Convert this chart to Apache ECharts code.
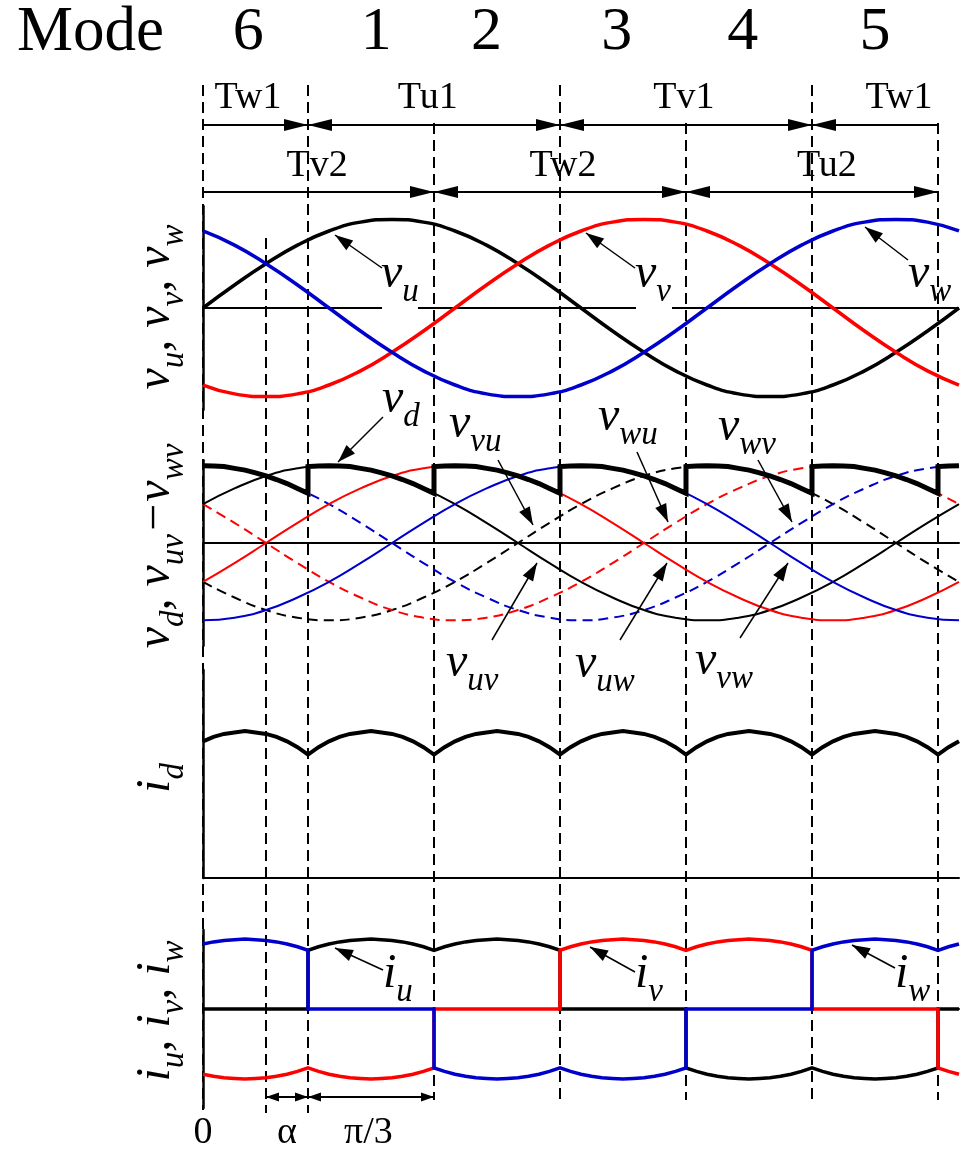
<!DOCTYPE html>
<html>
<head>
<meta charset="utf-8">
<title>Mode waveforms</title>
<script src="https://cdn.jsdelivr.net/npm/echarts@6.0.0/dist/echarts.min.js"></script>
<style>
  html, body { margin: 0; padding: 0; background: #fff; }
  #main { width: 960px; height: 1153px; }
</style>
</head>
<body>
<div id="main"></div>
<script>
// electrical angle in degrees, 0 .. 2pi across the plot
const theta = [0, 15, 30, 45, 60, 75, 90, 105, 120, 135, 150, 165, 180,
               195, 210, 225, 240, 255, 270, 285, 300, 315, 330, 345, 360];

// phase voltages (per unit of phase peak)
const vu = [0, 0.26, 0.5, 0.71, 0.87, 0.97, 1, 0.97, 0.87, 0.71, 0.5, 0.26, 0,
            -0.26, -0.5, -0.71, -0.87, -0.97, -1, -0.97, -0.87, -0.71, -0.5, -0.26, 0];
const vv = [-0.87, -0.97, -1, -0.97, -0.87, -0.71, -0.5, -0.26, 0, 0.26, 0.5, 0.71, 0.87,
            0.97, 1, 0.97, 0.87, 0.71, 0.5, 0.26, 0, -0.26, -0.5, -0.71, -0.87];
const vw = [0.87, 0.71, 0.5, 0.26, 0, -0.26, -0.5, -0.71, -0.87, -0.97, -1, -0.97, -0.87,
            -0.71, -0.5, -0.26, 0, 0.26, 0.5, 0.71, 0.87, 0.97, 1, 0.97, 0.87];

// line-to-line voltages
const vuv = [0.87, 1.22, 1.5, 1.67, 1.73, 1.67, 1.5, 1.22, 0.87, 0.45, 0, -0.45, -0.87,
             -1.22, -1.5, -1.67, -1.73, -1.67, -1.5, -1.22, -0.87, -0.45, 0, 0.45, 0.87];
const vvu = [-0.87, -1.22, -1.5, -1.67, -1.73, -1.67, -1.5, -1.22, -0.87, -0.45, 0, 0.45, 0.87,
             1.22, 1.5, 1.67, 1.73, 1.67, 1.5, 1.22, 0.87, 0.45, 0, -0.45, -0.87];
const vuw = [-0.87, -0.45, 0, 0.45, 0.87, 1.22, 1.5, 1.67, 1.73, 1.67, 1.5, 1.22, 0.87,
             0.45, 0, -0.45, -0.87, -1.22, -1.5, -1.67, -1.73, -1.67, -1.5, -1.22, -0.87];
const vwu = [0.87, 0.45, 0, -0.45, -0.87, -1.22, -1.5, -1.67, -1.73, -1.67, -1.5, -1.22, -0.87,
             -0.45, 0, 0.45, 0.87, 1.22, 1.5, 1.67, 1.73, 1.67, 1.5, 1.22, 0.87];
const vvw = [-1.73, -1.67, -1.5, -1.22, -0.87, -0.45, 0, 0.45, 0.87, 1.22, 1.5, 1.67, 1.73,
             1.67, 1.5, 1.22, 0.87, 0.45, 0, -0.45, -0.87, -1.22, -1.5, -1.67, -1.73];
const vwv = [1.73, 1.67, 1.5, 1.22, 0.87, 0.45, 0, -0.45, -0.87, -1.22, -1.5, -1.67, -1.73,
             -1.67, -1.5, -1.22, -0.87, -0.45, 0, 0.45, 0.87, 1.22, 1.5, 1.67, 1.73];

// conduction intervals (start angle, every pi/3), shapes read every 5 deg inside one interval
const intervalStart = [-10, 50, 110, 170, 230, 290, 350];
const vdArc = [1.71, 1.72, 1.73, 1.72, 1.71, 1.67, 1.63, 1.57, 1.5, 1.42, 1.33, 1.22, 1.11];
const idArc = [0.84, 0.89, 0.93, 0.96, 0.98, 0.99, 1.0, 0.99, 0.98, 0.96, 0.93, 0.89, 0.84];
// which way each phase current flows in each interval (+1 / 0 / -1)
const iuSign = [0, 1, 1, 0, -1, -1, 0];
const ivSign = [-1, -1, 0, 1, 1, 0, -1];
const iwSign = [1, 0, -1, -1, 0, 1, 1];

// annotation texts
const modeNames = ['6', '1', '2', '3', '4', '5'];
const modeAt = [21.5, 82.5, 135, 197, 257, 320];
const row1Names = ['Tw1', 'Tu1', 'Tv1', 'Tw1'];
const row1At = [21.4, 107, 229, 331.4];
const row2Names = ['Tv2', 'Tw2', 'Tu2'];
const row2At = [54.3, 171.4, 297.1];

const SERIF = '"Liberation Serif", "Times New Roman", serif';
const BLACK = '#000000', RED = '#ff0000', BLUE = '#0000cc';

const pairs = arr => theta.map((t, i) => [t, arr[i]]);

function piecewise (arc, signs) {
    const pts = [];
    intervalStart.forEach((s, k) => {
        arc.forEach((v, j) => {
            const t = s + 5 * j;
            if (t >= 0 && t <= 360) pts.push([t, signs ? v * signs[k] : v]);
        });
    });
    return pts;
}

const chart = echarts.init(document.getElementById('main'));

const grids = [
    { left: 203, width: 756, top: 206.2, height: 203.6 },
    { left: 203, width: 756, top: 460.3, height: 185.5 },
    { left: 203, width: 756, top: 670, height: 208 },
    { left: 203, width: 756, top: 930, height: 178 }
];
const yRange = [[-1.15, 1.15], [-2.3, 1.85], [0, 1.415], [-1.413, 1.13]];

function line (name, data, axis, color, width, dashed, smooth, z) {
    return {
        name: name,
        type: 'line',
        xAxisIndex: axis,
        yAxisIndex: axis,
        data: data,
        showSymbol: false,
        symbol: 'none',
        smooth: smooth,
        silent: true,
        z: z || 2,
        lineStyle: { color: color, width: width, type: dashed ? [10, 6] : 'solid', cap: 'butt', join: 'miter' }
    };
}

const option = {
    animation: false,
    backgroundColor: '#fff',
    grid: grids,
    xAxis: grids.map((g, i) => ({
        gridIndex: i,
        type: 'value',
        min: 0,
        max: 360,
        axisLabel: { show: false },
        axisTick: { show: false },
        splitLine: { show: false },
        axisLine: { show: i > 0, onZero: true, lineStyle: { color: BLACK, width: 2 } }
    })),
    yAxis: grids.map((g, i) => ({
        gridIndex: i,
        type: 'value',
        min: yRange[i][0],
        max: yRange[i][1],
        axisLabel: { show: false },
        axisTick: { show: false },
        splitLine: { show: false },
        axisLine: { show: true, onZero: false, lineStyle: { color: BLACK, width: 2.5 } }
    })),
    series: [
        line('vu', pairs(vu), 0, BLACK, 3.5, false, true),
        line('vv', pairs(vv), 0, RED, 3.5, false, true),
        line('vw', pairs(vw), 0, BLUE, 3.5, false, true),

        line('vvu', pairs(vvu), 1, BLACK, 2, true, true),
        line('vwu', pairs(vwu), 1, RED, 2, true, true),
        line('vwv', pairs(vwv), 1, BLUE, 2, true, true),
        line('vuv', pairs(vuv), 1, BLACK, 2, false, true),
        line('vuw', pairs(vuw), 1, RED, 2, false, true),
        line('vvw', pairs(vvw), 1, BLUE, 2, false, true),
        line('vd', piecewise(vdArc), 1, BLACK, 5, false, false, 4),

        line('id', piecewise(idArc), 2, BLACK, 4, false, false),

        line('iu', piecewise(idArc, iuSign), 3, BLACK, 3.5, false, false, 2),
        line('iv', piecewise(idArc, ivSign), 3, RED, 3.5, false, false, 3),
        line('iw', piecewise(idArc, iwSign), 3, BLUE, 3.5, false, false, 4)
    ]
};

chart.setOption(option);

// ---------- annotations ----------
const px = t => chart.convertToPixel({ xAxisIndex: 0 }, t);
const py = (i, v) => chart.convertToPixel({ yAxisIndex: i }, v);

function seg (x1, y1, x2, y2, w, dash, z) {
    return { type: 'line', z: z || 5, silent: true, shape: { x1, y1, x2, y2 },
        style: { stroke: BLACK, lineWidth: w, lineDash: dash || null } };
}
function head (tx, ty, fx, fy, len, hw) {
    const dx = tx - fx, dy = ty - fy, d = Math.hypot(dx, dy);
    const ux = dx / d, uy = dy / d;
    const bx = tx - ux * len, by = ty - uy * len;
    return { type: 'polygon', z: 6, silent: true,
        shape: { points: [[tx, ty], [bx - uy * hw, by + ux * hw], [bx + uy * hw, by - ux * hw]] },
        style: { fill: BLACK } };
}
function span (t1, t2, y, h1, h2, len, hw, w, out) {
    const x1 = px(t1), x2 = px(t2);
    out.push(seg(x1, y, x2, y, w));
    if (h1) out.push(head(x1, y, x2, y, len, hw));
    if (h2) out.push(head(x2, y, x1, y, len, hw));
}
function txt (str, x, y, size, align, italic) {
    return { type: 'text', z: 20, silent: true, x: x, y: y,
        style: { text: str, fill: BLACK, fontSize: size, fontFamily: SERIF,
            fontStyle: italic ? 'italic' : 'normal', align: align || 'center', verticalAlign: 'middle' } };
}
const rich = {
    m: { fontSize: 48, fontFamily: SERIF, fontStyle: 'italic', fill: BLACK, verticalAlign: 'bottom', padding: [0, 0, 11, 0] },
    s: { fontSize: 33, fontFamily: SERIF, fontStyle: 'italic', fill: BLACK, verticalAlign: 'bottom' }
};
function symbol (parts, x, y, align, rotation) {
    return { type: 'text', z: 20, silent: true, x: x, y: y, rotation: rotation || 0,
        style: { text: parts.map(p => '{' + p[0] + '|' + p[1] + '}').join(''), rich: rich,
            align: align || 'left', verticalAlign: 'bottom' } };
}

const g = [];

// vertical dashed guides: angle, top, bottom (px)
const guides = [[0, 85, 1110], [30, 238, 1113], [50, 85, 1113], [110, 123, 1100],
    [170, 85, 1100], [230, 123, 1100], [290, 85, 1100], [350, 123, 1100]];
guides.forEach(d => g.push(seg(px(d[0]), d[1], px(d[0]), d[2], 2, [11, 6], 1)));

// curve labels with leader arrows
const curveLabels = [
    { m: 'v', s: 'u', x: 383, b: 290, a: [382, 268, 335, 235], gap: true },
    { m: 'v', s: 'v', x: 637, b: 290, a: [635, 268, 586, 233], gap: true },
    { m: 'v', s: 'w', x: 910, b: 290, a: [908, 260, 865, 227] },
    { m: 'v', s: 'd', x: 384, b: 415, a: [383, 417, 338, 462] },
    { m: 'v', s: 'vu', x: 451, b: 440, a: [498, 460, 533, 525] },
    { m: 'v', s: 'wu', x: 600, b: 433, a: [637, 452, 668, 522] },
    { m: 'v', s: 'wv', x: 720, b: 443, a: [758, 460, 792, 522] },
    { m: 'v', s: 'uv', x: 448, b: 679, a: [492, 640, 537, 563] },
    { m: 'v', s: 'uw', x: 577, b: 680, a: [620, 640, 667, 563] },
    { m: 'v', s: 'vw', x: 697, b: 677, a: [740, 638, 788, 563] },
    { m: 'i', s: 'u', x: 385, b: 990, a: [383, 970, 335, 948] },
    { m: 'i', s: 'v', x: 637, b: 990, a: [635, 972, 590, 947] },
    { m: 'i', s: 'w', x: 897, b: 990, a: [895, 968, 852, 945] }
];

// zero line of the phase-voltage panel, broken under its labels
const y0 = py(0, 0);
let xs = px(0);
curveLabels.filter(l => l.gap).forEach(l => {
    g.push(seg(xs, y0, l.x - 1, y0, 2, null, 1));
    xs = l.x + 35;
});
g.push(seg(xs, y0, px(360), y0, 2, null, 1));

curveLabels.forEach(l => {
    g.push(symbol([['m', l.m], ['s', l.s]], l.x - 2, l.b + 19));
    g.push(seg(l.a[0], l.a[1], l.a[2], l.a[3], 1.5));
    g.push(head(l.a[2], l.a[3], l.a[0], l.a[1], 18, 6));
});

// rotated panel titles
const titles = [
    { p: [['m', 'v'], ['s', 'u'], ['m', ', '], ['m', 'v'], ['s', 'v'], ['m', ', '], ['m', 'v'], ['s', 'w']], y: 307 },
    { p: [['m', 'v'], ['s', 'd'], ['m', ', '], ['m', 'v'], ['s', 'uv'], ['m', '\u2212'], ['m', 'v'], ['s', 'wv']], y: 546 },
    { p: [['m', 'i'], ['s', 'd']], y: 778 },
    { p: [['m', 'i'], ['s', 'u'], ['m', ', '], ['m', 'i'], ['s', 'v'], ['m', ', '], ['m', 'i'], ['s', 'w']], y: 1011 }
];
titles.forEach(t => g.push(symbol(t.p, 191, t.y, 'center', Math.PI / 2)));

// mode header
g.push(txt('Mode', 17, 33, 63, 'left'));
modeNames.forEach((m, i) => g.push(txt(m, px(modeAt[i]), 33, 62)));

// thyristor conduction spans
row1Names.forEach((n, i) => g.push(txt(n, px(row1At[i]), 98, 38)));
row2Names.forEach((n, i) => g.push(txt(n, px(row2At[i]), 166, 38)));
span(0, 50, 125, false, true, 24, 6, 2, g);
span(50, 170, 125, true, true, 24, 6, 2, g);
span(170, 290, 125, true, true, 24, 6, 2, g);
span(290, 350, 125, true, false, 24, 6, 2, g);
span(0, 110, 192, false, true, 24, 6, 2, g);
span(110, 230, 192, true, true, 24, 6, 2, g);
span(230, 350, 192, true, true, 24, 6, 2, g);

// alpha and pi/3 at the bottom
span(30, 50, 1097, true, true, 13, 4.5, 2, g);
span(50, 110, 1097, true, true, 13, 4.5, 2, g);
g.push(txt('0', px(0), 1133, 38));
g.push(txt('\u03b1', px(40), 1133, 38));
g.push(txt('\u03c0/3', px(78.8), 1133, 38));

chart.setOption({ graphic: { elements: g } });
</script>
</body>
</html>
